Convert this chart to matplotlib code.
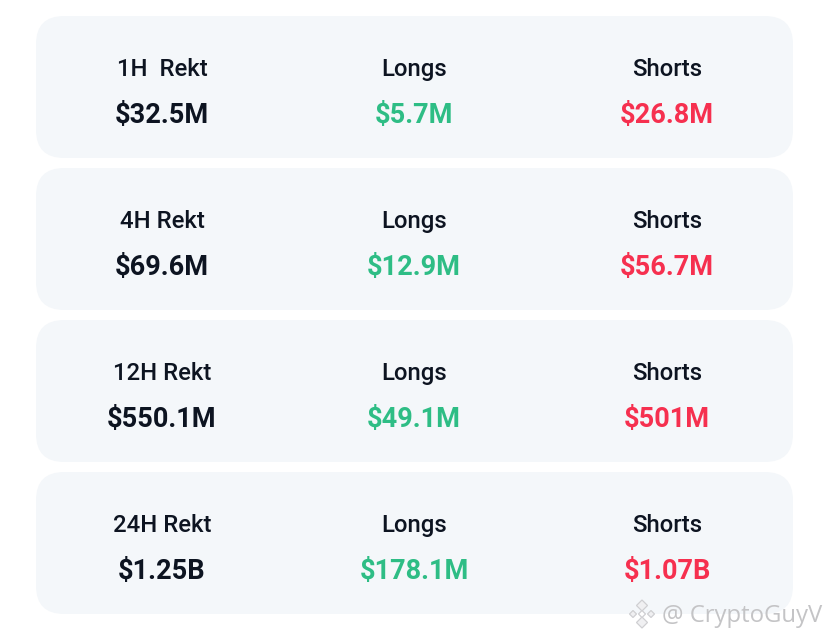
import matplotlib
matplotlib.use("Agg")
import matplotlib.pyplot as plt
from matplotlib.patches import FancyBboxPatch, Polygon

W, H = 829, 639
totals_label = ["1H  Rekt", "4H Rekt", "12H Rekt", "24H Rekt"]
totals = ["$32.5M", "$69.6M", "$550.1M", "$1.25B"]
longs = ["$5.7M", "$12.9M", "$49.1M", "$178.1M"]
shorts = ["$26.8M", "$56.7M", "$501M", "$1.07B"]
font = "Roboto"

fig = plt.figure(figsize=(W / 100, H / 100), dpi=100, facecolor="white")
ax = fig.add_axes([0, 0, 1, 1])
ax.set_xlim(0, W)
ax.set_ylim(H, 0)
ax.axis("off")

tops = [16, 168, 320, 472]
R = 28
for i, top in enumerate(tops):
    ax.add_patch(FancyBboxPatch((36 + R, top + R), 757 - 2 * R, 142 - 2 * R,
                                boxstyle=f"round,pad={R}", fc="#f4f7fa", ec="none"))
    for x, head, val, col in [(162, totals_label[i], totals[i], "#0d1421"),
                              (414, "Longs", longs[i], "#2ebd85"),
                              (667, "Shorts", shorts[i], "#f6304f")]:
        ax.text(x, top + 60, head, ha="center", va="baseline", fontsize=17.2, color="#0d1421", family=font, fontweight="medium")
        ax.text(x, top + 107, val, ha="center", va="baseline", fontsize=19.5, color=col, family=font, fontweight="bold")

# watermark logo
cx, cy = 642, 614
for dx, dy, s in [(0, -8.5, 5.5), (-9, 0, 3.5), (9, 0, 3.5), (0, 8.5, 5.5)]:
    ax.add_patch(Polygon([(cx + dx, cy + dy - s), (cx + dx + s, cy + dy),
                          (cx + dx, cy + dy + s), (cx + dx - s, cy + dy)],
                         closed=True, fc="#f0f0f2", ec="#cfcfd2", lw=0.9))
ax.add_patch(Polygon([(cx, cy - 3.5), (cx + 3.5, cy), (cx, cy + 3.5), (cx - 3.5, cy)],
                     closed=True, fc="white", ec="#cfcfd2", lw=0.9))
ax.text(662, 622, "@ CryptoGuyV", ha="left", va="baseline", fontsize=17.2, color="#c4c4c6", family="Open Sans")
fig.savefig("out.png", dpi=100)
